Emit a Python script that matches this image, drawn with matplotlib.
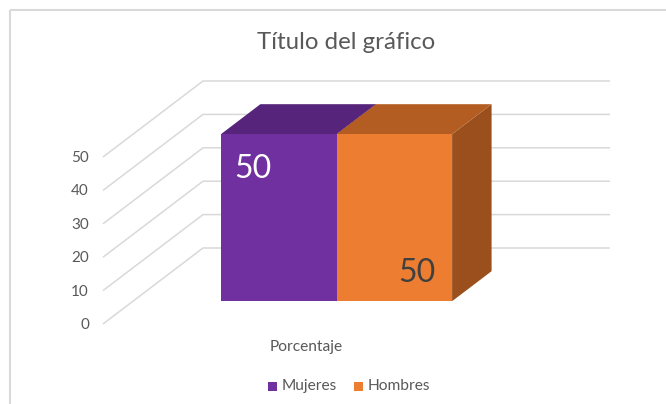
import matplotlib
matplotlib.use("Agg")
import matplotlib.pyplot as plt
from matplotlib.patches import Polygon, Rectangle

# ---- data ----
title = "Título del gráfico"
category = "Porcentaje"
series_names = ["Mujeres", "Hombres"]
series_values = [50, 50]
y_ticks = [0, 10, 20, 30, 40, 50]

front_colors = ["#7030A0", "#ED7D31"]
top_colors = ["#56247A", "#B45D22"]
side_colors = ["#562479", "#9A4F1D"]

# ---- pseudo-3D projection (pixel space) ----
W, H = 666, 404
FX0, FW = 103.0, 407.0      # category range -0.5..0.5 on the front plane
Y0, PPU = 324.0, 167.0 / 50  # value 0 on front plane, pixels per unit
DDX, DDY = 100.0, -76.0      # full depth offset


def proj(c, v, d):
    return (FX0 + (c + 0.5) * FW + d * DDX, Y0 - v * PPU + d * DDY)


fig = plt.figure(figsize=(W / 100, H / 100), dpi=100)
ax = fig.add_axes([0, 0, 1, 1])
ax.set_xlim(0, W)
ax.set_ylim(H, 0)
ax.axis("off")

FONT = ["Lato", "DejaVu Sans"]
TXT = "#595959"
GRID = "#D9D9D9"

# chart area border
ax.add_patch(Rectangle((9.5, 9.5), 700, 450, fill=False, edgecolor="#D9D9D9", lw=1.5, zorder=0))

# gridlines: left wall diagonals and back wall horizontals
for v in y_ticks:
    x0, y0 = proj(-0.5, v, 0)
    x1, y1 = proj(-0.5, v, 1)
    x2, y2 = proj(0.5, v, 1)
    ax.plot([x0, x1, x2], [y0, y1, y2], color=GRID, lw=1.1, zorder=1, solid_capstyle="butt")
    ax.text(x0 - 14, y0 + 1, str(v), ha="right", va="center", fontsize=11, color=TXT, family=FONT)

# bars
bar_w = 0.284
d_front, d_back = 0.30, 0.695
n = len(series_values)
starts = [-bar_w * n / 2 + i * bar_w for i in range(n)]
for i, (val, c0) in enumerate(zip(series_values, starts)):
    c1 = c0 + bar_w
    front = [proj(c0, 0, d_front), proj(c1, 0, d_front), proj(c1, val, d_front), proj(c0, val, d_front)]
    top = [proj(c0, val, d_front), proj(c1, val, d_front), proj(c1, val, d_back), proj(c0, val, d_back)]
    side = [proj(c1, 0, d_front), proj(c1, 0, d_back), proj(c1, val, d_back), proj(c1, val, d_front)]
    z = 3 + i * 3
    ax.add_patch(Polygon(side, closed=True, facecolor=side_colors[i], edgecolor="none", zorder=z))
    ax.add_patch(Polygon(top, closed=True, facecolor=top_colors[i], edgecolor="none", zorder=z + 1))
    ax.add_patch(Polygon(front, closed=True, facecolor=front_colors[i], edgecolor="none", zorder=z + 2))

# data labels
fx, fy = proj(starts[0], series_values[0], d_front)
ax.text(fx + 32, fy + 35, str(series_values[0]), ha="center", va="center",
        fontsize=23, color="white", family=FONT, zorder=20)
bx, by = proj(starts[1] + bar_w, 0, d_front)
ax.text(bx - 35.5, by - 28, str(series_values[1]), ha="center", va="center",
        fontsize=23, color="#404040", family=FONT, zorder=20)

# title
ax.text(346.5, 49, title, ha="center", va="baseline", fontsize=17.3, color=TXT, family=FONT)

# category label
cx, _ = proj(0, 0, 0)
ax.text(cx, 351, category, ha="center", va="baseline", fontsize=11.2, color=TXT, family=FONT)

# legend
leg_x = [268, 354]
for i, name in enumerate(series_names):
    ax.add_patch(Rectangle((leg_x[i], 382), 9, 8.5, facecolor=front_colors[i], edgecolor="none"))
    ax.text(leg_x[i] + 13.5, 386, name, ha="left", va="center", fontsize=11.2, color=TXT, family=FONT)

fig.savefig("out.png", dpi=100)
